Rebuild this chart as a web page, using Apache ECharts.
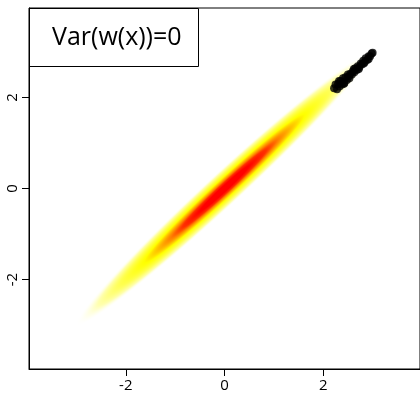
<!DOCTYPE html>
<html>
<head>
<meta charset="utf-8">
<script src="https://cdn.jsdelivr.net/npm/echarts@6/dist/echarts.min.js"></script>
<style>
  html, body { margin: 0; padding: 0; background: #fff; }
  #chart { width: 420px; height: 393px; }
</style>
</head>
<body>
<div id="chart"></div>
<script>
// axis range and tick labels
const axisMin = -3.96;
const axisMax = 3.96;
const tickValues = [-2, 0, 2];

// density cloud: centre, the two ends of its long axis, half width (data units)
const densityCenter = [0, 0];
const densityEnds = [[-3.0, -3.0], [3.0, 3.0]];
const densityHalfWidth = 0.25;

// black points in the upper right corner
const pointsX = [2.22, 2.25, 2.28, 2.30, 2.33, 2.35, 2.38, 2.40, 2.43, 2.45, 2.48, 2.50, 2.53, 2.55, 2.58, 2.60,
  2.63, 2.65, 2.68, 2.70, 2.73, 2.76, 2.78, 2.81, 2.84, 2.86, 2.89, 2.92, 2.95, 2.98, 3.00, 2.32, 2.42, 2.52,
  2.62, 2.72, 2.82, 2.92];
const pointsY = [2.20, 2.28, 2.18, 2.30, 2.24, 2.36, 2.28, 2.42, 2.32, 2.44, 2.38, 2.50, 2.42, 2.52, 2.50, 2.57,
  2.55, 2.64, 2.60, 2.68, 2.66, 2.74, 2.72, 2.80, 2.77, 2.86, 2.82, 2.90, 2.90, 2.96, 2.98, 2.36, 2.30, 2.46,
  2.62, 2.62, 2.74, 2.84];

const legendText = 'Var(w(x))=0';

const heatStops = [
  { offset: 0, color: '#FF0000' },
  { offset: 0.16, color: '#FF0000' },
  { offset: 0.28, color: '#FF3000' },
  { offset: 0.36, color: '#FF8000' },
  { offset: 0.45, color: '#FFC000' },
  { offset: 0.54, color: '#FFFF00' },
  { offset: 0.7, color: '#FFFF50' },
  { offset: 0.85, color: '#FFFFB0' },
  { offset: 1, color: 'rgba(255,255,255,0)' }
];

const font = '"Open Sans", "DejaVu Sans", sans-serif';

function axisCommon() {
  return {
    type: 'value',
    min: axisMin,
    max: axisMax,
    splitLine: { show: false },
    axisLine: { show: true, onZero: false, lineStyle: { color: '#000', width: 1 } },
    axisTick: { show: true, inside: false, length: 7, customValues: tickValues, lineStyle: { color: '#000', width: 1 } },
    axisLabel: { customValues: tickValues, color: '#000', fontSize: 15, fontFamily: font }
  };
}

const xAxis = axisCommon();
xAxis.axisLabel.margin = 9;
const yAxis = axisCommon();
yAxis.axisLabel.rotate = 90;
yAxis.axisLabel.margin = 9;

const points = pointsX.map((x, i) => [x, pointsY[i]]);

const chart = echarts.init(document.getElementById('chart'), null, { renderer: 'canvas' });
chart.setOption({
  animation: false,
  backgroundColor: '#fff',
  grid: {
    left: 29, top: 8, width: 392, height: 362,
    show: true, borderColor: '#000', borderWidth: 1, backgroundColor: 'transparent'
  },
  xAxis: xAxis,
  yAxis: yAxis,
  series: [
    {
      type: 'custom',
      clip: true,
      z: 1,
      data: [densityCenter],
      renderItem: function (params, api) {
        const p1 = api.coord(densityEnds[0]);
        const p2 = api.coord(densityEnds[1]);
        const c = api.coord(densityCenter);
        const w = api.coord([densityCenter[0] - densityHalfWidth, densityCenter[1] + densityHalfWidth]);
        const halfLen = Math.hypot(p2[0] - p1[0], p2[1] - p1[1]) / 2;
        const halfWid = Math.hypot(w[0] - c[0], w[1] - c[1]);
        return {
          type: 'circle',
          x: (p1[0] + p2[0]) / 2,
          y: (p1[1] + p2[1]) / 2,
          rotation: Math.atan2(p1[1] - p2[1], p2[0] - p1[0]),
          scaleX: halfLen / 100,
          scaleY: halfWid / 100,
          shape: { cx: 0, cy: 0, r: 100 },
          style: {
            fill: { type: 'radial', x: 0.5, y: 0.5, r: 0.5, colorStops: heatStops }
          }
        };
      }
    },
    {
      type: 'scatter',
      z: 3,
      symbol: 'circle',
      symbolSize: 8,
      itemStyle: { color: '#000' },
      data: points
    }
  ],
  graphic: [
    {
      type: 'group',
      z: 10,
      children: [
        {
          type: 'rect',
          shape: { x: 29.5, y: 8.5, width: 169, height: 58 },
          style: { fill: '#fff', stroke: '#000', lineWidth: 1 }
        },
        {
          type: 'text',
          x: 52, y: 38,
          style: { text: legendText, fill: '#000', font: '25px ' + font, verticalAlign: 'middle' }
        }
      ]
    }
  ]
});
</script>
</body>
</html>
